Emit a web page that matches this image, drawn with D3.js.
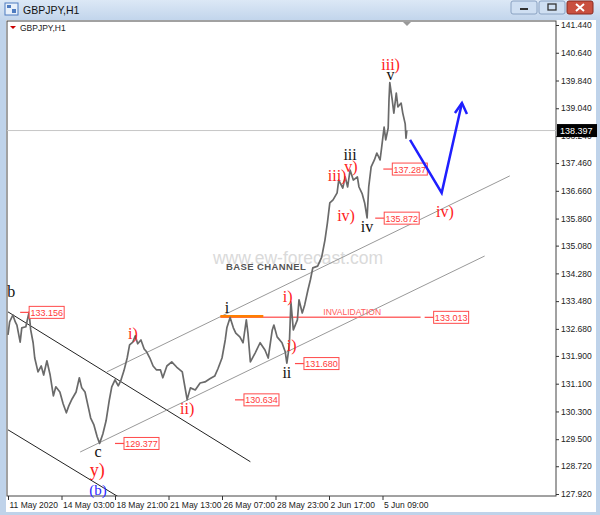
<!DOCTYPE html>
<meta charset="utf-8">
<style>
  body{ margin:0; background:#fff; }
  svg{ display:block; font-family:"Liberation Sans", Arial, sans-serif; }
  .axis path{ display:none; }
  .axis line{ stroke:#333; }
  .axis text{ fill:#222; font-size:8.5px; font-family:"Liberation Sans", Arial, sans-serif; }
</style>
<script src="https://d3js.org/d3.v7.min.js"></script>
<div id="my_dataviz"></div>
<script>

// time axis (bar index) and its labels
var barTicks = [0, 66, 132, 198, 264, 330, 396, 462];
var dateLabels = ["11 May 2020", "14 May 03:00", "18 May 21:00", "21 May 13:00",
                  "26 May 07:00", "28 May 23:00", "2 Jun 17:00", "5 Jun 09:00"];

// price axis ticks
var priceTicks = [141.44, 140.64, 139.84, 139.04, 138.24, 137.46, 136.66, 135.86, 135.08,
                  134.28, 133.48, 132.68, 131.90, 131.10, 130.30, 129.50, 128.72, 127.92];

// GBPJPY H1 close
var bars = [0,2,6,9,11,15,17,22,26,28,31,33,37,41,44,48,52,56,59,64,68,72,75,79,84,88,91,95,99,102,
            106,110,113,117,121,125,128,132,136,139,143,147,150,154,157,160,164,168,171,175,179,183,188,191,
            196,202,208,215,218,221,225,231,237,243,249,255,259,264,268,270,274,278,281,286,290,294,296,299,
            305,311,317,321,326,328,332,338,342,344,347,349,352,357,359,363,366,370,373,376,382,387,391,394,
            397,401,406,408,413,416,419,422,426,431,433,437,440,443,445,448,452,455,459,461,464,466,469,470,
            471,474,476,479,481,485,487,490,491,492];
var closes = [132.51,132.88,133.08,132.88,132.79,132.30,132.71,132.74,133.16,132.65,132.28,131.84,131.44,131.61,
              131.35,131.76,131.35,130.75,131.01,130.86,130.52,130.26,130.46,130.66,130.86,131.27,130.98,130.86,
              130.43,130.11,129.91,129.57,129.38,129.65,130.03,130.63,131.01,131.21,131.04,131.18,131.47,131.84,
              132.22,132.30,132.48,132.25,132.36,132.10,132.02,131.84,131.61,131.50,131.50,131.27,131.61,131.73,
              131.58,131.44,131.04,130.64,130.98,130.92,131.12,131.15,131.24,131.32,131.53,131.84,132.36,132.71,
              133.01,132.71,132.56,132.45,132.28,132.94,132.56,131.73,131.99,132.28,132.07,131.84,132.65,132.79,
              132.45,132.28,132.02,131.69,132.19,133.46,132.65,132.94,133.52,133.14,133.37,133.80,134.09,134.44,
              134.49,134.75,135.24,135.73,136.31,136.40,136.60,136.97,136.74,137.06,136.77,137.26,136.97,137.06,
              136.77,136.57,136.31,135.88,136.77,137.35,137.55,137.75,137.55,137.92,138.50,138.13,138.47,139.28,
              139.78,139.28,138.90,139.48,139.08,139.19,138.90,138.59,138.18,138.40];
var lastPrice = 138.397;

// annotations
var descChannel = [[[0, 133.17], [299, 128.85]], [[0, 129.77], [136, 127.84]]];
var baseChannel = [[[89, 129.13], [588, 134.78]], [[122, 131.44], [619, 137.09]]];
var priceTags = [
  {bar: 15, price: 133.156}, {bar: 132, price: 129.377}, {bar: 280, price: 130.634},
  {bar: 354, price: 131.680}, {bar: 514, price: 133.013}, {bar: 463, price: 137.287},
  {bar: 453, price: 135.872}
];
var waves = [
  {t: "b", bar: 4, price: 133.60, c: "#111"},
  {t: "c", bar: 111, price: 128.99, c: "#111"},
  {t: "y)", bar: 110, price: 128.44, c: "#ff2020"},
  {t: "(b)", bar: 111, price: 127.89, c: "#2a2aff"},
  {t: "i)", bar: 154, price: 132.39, c: "#ff2020"},
  {t: "ii)", bar: 221, price: 130.23, c: "#ff2020"},
  {t: "i", bar: 270, price: 133.14, c: "#111"},
  {t: "ii", bar: 344, price: 131.27, c: "#111"},
  {t: "i)", bar: 345, price: 133.46, c: "#ff2020"},
  {t: "i)", bar: 350, price: 132.05, c: "#ff2020"},
  {t: "iii)", bar: 406, price: 136.94, c: "#ff2020"},
  {t: "iii", bar: 422, price: 137.55, c: "#111"},
  {t: "v)", bar: 423, price: 137.20, c: "#ff2020"},
  {t: "iv)", bar: 417, price: 135.79, c: "#ff2020"},
  {t: "iv", bar: 443, price: 135.47, c: "#111"},
  {t: "iii)", bar: 472, price: 140.14, c: "#ff2020"},
  {t: "v", bar: 472, price: 139.85, c: "#111"},
  {t: "iv)", bar: 539, price: 135.91, c: "#ff2020"}
];
var projection = [[496, 138.13], [535, 136.60], [560, 139.19]];
var invalidation = 133.013;

var W = 600, H = 515;
var plot = {left: 7, right: 556, top: 21, bottom: 496};

var x = d3.scaleLinear().domain([0, 462]).range([8, 382.5]);
var y = d3.scaleLinear().domain([127.92, 141.44]).range([494, 25]);

var svg = d3.select("#my_dataviz").append("svg")
    .attr("width", W).attr("height", H);

// window chrome
var defs = svg.append("defs");
var grad = defs.append("linearGradient").attr("id", "tb").attr("x1", 0).attr("x2", 0).attr("y1", 0).attr("y2", 1);
grad.append("stop").attr("offset", "0%").attr("stop-color", "#dce8f6");
grad.append("stop").attr("offset", "100%").attr("stop-color", "#c2d5ec");
defs.append("clipPath").attr("id", "clip").append("rect")
    .attr("x", plot.left).attr("y", plot.top)
    .attr("width", plot.right - plot.left).attr("height", plot.bottom - plot.top);

svg.append("rect").attr("width", W).attr("height", H).attr("fill", "#bfd3ea");
svg.append("rect").attr("width", W).attr("height", 20).attr("fill", "url(#tb)");
svg.append("rect").attr("x", 6).attr("y", 20).attr("width", 590).attr("height", 492).attr("fill", "#fff");

// title bar icon + text
var icon = svg.append("g").attr("transform", "translate(5,3)");
icon.append("rect").attr("width", 13).attr("height", 12).attr("fill", "#e8f0fa").attr("stroke", "#4f7cc0");
icon.append("rect").attr("x", 2).attr("y", 2).attr("width", 4).attr("height", 3).attr("fill", "#4f7cc0");
icon.append("rect").attr("x", 7).attr("y", 6).attr("width", 4).attr("height", 4).attr("fill", "#4f7cc0");
svg.append("text").attr("x", 23).attr("y", 14).attr("font-size", 10.5).attr("fill", "#111").text("GBPJPY,H1");

// buttons
[[511, "#cfdff2"], [539, "#cfdff2"], [567, "#c9503f"]].forEach(function(b, i) {
  svg.append("rect").attr("x", b[0]).attr("y", 1).attr("width", 26).attr("height", 13).attr("rx", 2)
     .attr("fill", b[1]).attr("stroke", i == 2 ? "#8a2a20" : "#8aa2c2");
});
svg.append("rect").attr("x", 520).attr("y", 8).attr("width", 8).attr("height", 2).attr("fill", "#333");
svg.append("rect").attr("x", 548).attr("y", 4).attr("width", 8).attr("height", 6).attr("fill", "none").attr("stroke", "#333").attr("stroke-width", 1.3);
svg.append("path").attr("d", "M576,4L584,11M584,4L576,11").attr("stroke", "#fff").attr("stroke-width", 2);

// chart frame
svg.append("rect").attr("x", plot.left).attr("y", plot.top)
    .attr("width", plot.right - plot.left).attr("height", plot.bottom - plot.top)
    .attr("fill", "none").attr("stroke", "#444");

// axes
svg.append("g").attr("class", "axis").attr("transform", "translate(" + plot.right + ",0)")
    .call(d3.axisRight(y).tickValues(priceTicks).tickFormat(d3.format(".3f")).tickSize(3).tickPadding(2));
svg.append("g").attr("class", "axis").attr("transform", "translate(0," + plot.bottom + ")")
    .call(d3.axisBottom(x).tickValues(barTicks).tickFormat(function(d, i) { return dateLabels[i]; }).tickSize(4).tickPadding(2))
    .selectAll("text").attr("text-anchor", "start").attr("dx", 1);

// legend in the corner
svg.append("path").attr("d", "M10,26L16,26L13,29Z").attr("fill", "#c00");
svg.append("text").attr("x", 20).attr("y", 31).attr("font-size", 8.5).attr("fill", "#222").text("GBPJPY,H1");
svg.append("path").attr("d", "M403,22L411,22L407,26Z").attr("fill", "#999");

var g = svg.append("g").attr("clip-path", "url(#clip)");

// current price line
g.append("line").attr("x1", plot.left).attr("x2", plot.right)
    .attr("y1", y(lastPrice)).attr("y2", y(lastPrice)).attr("stroke", "#c6c6c6");

// watermark
g.append("text").attr("x", 298).attr("y", 264).attr("text-anchor", "middle")
    .attr("font-size", 17.5).attr("fill", "#dadada").text("www.ew-forecast.com");
g.append("text").attr("x", 226).attr("y", 270)
    .attr("font-size", 9.5).attr("font-weight", "bold").attr("letter-spacing", 0.4)
    .attr("fill", "#555").text("BASE CHANNEL");

var seg = d3.line().x(function(d) { return x(d[0]); }).y(function(d) { return y(d[1]); });

// channels
g.selectAll(".desc").data(descChannel).enter().append("path")
    .attr("d", seg).attr("stroke", "#222").attr("stroke-width", 1).attr("fill", "none");
g.selectAll(".base").data(baseChannel).enter().append("path")
    .attr("d", seg).attr("stroke", "#999").attr("stroke-width", 1).attr("fill", "none");

// invalidation
g.append("line").attr("x1", x(262)).attr("x2", x(509))
    .attr("y1", y(invalidation)).attr("y2", y(invalidation))
    .attr("stroke", "#ff6b6b").attr("stroke-width", 1.5);
g.append("line").attr("x1", x(262)).attr("x2", x(315))
    .attr("y1", y(invalidation) - 1).attr("y2", y(invalidation) - 1)
    .attr("stroke", "#ff7f00").attr("stroke-width", 2.5);
g.append("text").attr("x", x(389)).attr("y", y(invalidation) - 2)
    .attr("font-size", 8.5).attr("fill", "#ff5a5a").text("INVALIDATION");

// price series
var pts = bars.map(function(b, i) { return [b, closes[i]]; });
g.append("path").datum(pts).attr("d", seg)
    .attr("fill", "none").attr("stroke", "#6a6a6a").attr("stroke-width", 1.7).attr("stroke-linejoin", "round");

// price tags
var tag = g.selectAll(".tag").data(priceTags).enter().append("g")
    .attr("transform", function(d) { return "translate(" + x(d.bar) + "," + y(d.price) + ")"; });
tag.append("line").attr("x1", 0).attr("x2", 9).attr("stroke", "#ff4a4a").attr("stroke-width", 1.2);
tag.append("rect").attr("x", 9).attr("y", -6).attr("width", 35).attr("height", 12)
    .attr("fill", "#fff").attr("stroke", "#ff4a4a");
tag.append("text").attr("x", 26.5).attr("y", 3.5).attr("text-anchor", "middle")
    .attr("font-size", 9).attr("fill", "#ff3a3a").text(function(d) { return d.price.toFixed(3); });

// wave labels (not clipped, "(b)" sits on the frame)
svg.selectAll(".wave").data(waves).enter().append("text")
    .attr("x", function(d) { return x(d.bar); })
    .attr("y", function(d) { return y(d.price); })
    .attr("text-anchor", "middle")
    .attr("font-family", "'Liberation Serif', 'Times New Roman', serif")
    .attr("font-size", function(d) { return d.t == "y)" ? 18 : (d.t == "(b)" ? 15 : 16); })
    .attr("fill", function(d) { return d.c; })
    .text(function(d) { return d.t; });

// projected path
g.append("path").datum(projection).attr("d", seg)
    .attr("fill", "none").attr("stroke", "#1f1fff").attr("stroke-width", 2.5);
var tip = projection[projection.length - 1];
g.append("path")
    .attr("d", "M" + (x(tip[0]) - 7) + "," + (y(tip[1]) + 10) + "L" + x(tip[0]) + "," + y(tip[1]) +
               "L" + (x(tip[0]) + 5) + "," + (y(tip[1]) + 11))
    .attr("fill", "none").attr("stroke", "#1f1fff").attr("stroke-width", 2.5);

// last price box on the axis
svg.append("rect").attr("x", 557).attr("y", y(lastPrice) - 6.5).attr("width", 40).attr("height", 13).attr("fill", "#000");
svg.append("text").attr("x", 560).attr("y", y(lastPrice) + 3.5).attr("font-size", 9).attr("fill", "#fff").text(lastPrice.toFixed(3));

</script>
